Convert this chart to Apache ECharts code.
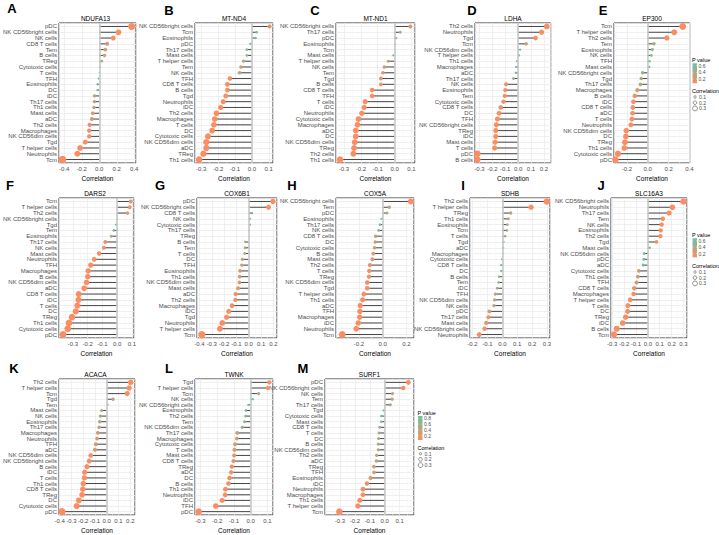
<!DOCTYPE html>
<html><head><meta charset="utf-8">
<script src="https://cdn.jsdelivr.net/npm/echarts@6/dist/echarts.min.js"></script>
<style>html,body{margin:0;padding:0;background:#fff}#c{width:719px;height:535px}</style>
</head><body><div id="c"></div>
<script>
// ---------------- DATA ----------------
const panelTags = ['A','B','C','D','E','F','G','H','I','J','K','L','M'];
const geneNames = ['NDUFA13','MT-ND4','MT-ND1','LDHA','EP300','DARS2','COX6B1','COX5A','SDHB','SLC16A3','ACACA','TWNK','SURF1'];

const catsA = ['pDC','NK CD56bright cells','NK cells','CD8 T cells','Tem','B cells','TReg','Cytotoxic cells','T cells','TFH','Eosinophils','DC','iDC','Th17 cells','Th1 cells','Mast cells','aDC','Th2 cells','Macrophages','NK CD56dim cells','Tgd','T helper cells','Neutrophils','Tcm'];
const corrA = [0.37,0.22,0.16,0.09,0.07,0.06,0.03,0.01,0.003,-0.008,-0.02,-0.02,-0.055,-0.055,-0.06,-0.075,-0.085,-0.11,-0.115,-0.115,-0.16,-0.22,-0.25,-0.42];
const pvalA = [0.0001,0.002,0.03,0.2,0.3,0.35,0.65,0.88,0.98,0.9,0.78,0.78,0.45,0.45,0.42,0.3,0.25,0.12,0.1,0.1,0.02,0.002,0.0005,0.0001];

const catsB = ['NK CD56bright cells','Tcm','Eosinophils','pDC','Th17 cells','Mast cells','T helper cells','Tem','NK cells','TFH','CD8 T cells','B cells','Tgd','Neutrophils','iDC','Th2 cells','Macrophages','T cells','DC','Cytotoxic cells','NK CD56dim cells','aDC','TReg','Th1 cells'];
const corrB = [0.105,0.028,0.022,-0.01,-0.03,-0.03,-0.05,-0.065,-0.073,-0.13,-0.145,-0.145,-0.155,-0.17,-0.185,-0.21,-0.22,-0.225,-0.235,-0.26,-0.27,-0.27,-0.287,-0.313];
const pvalB = [0.15,0.7,0.75,0.88,0.65,0.65,0.45,0.35,0.3,0.07,0.04,0.04,0.03,0.02,0.01,0.005,0.004,0.003,0.002,0.001,0.001,0.001,0.0005,0.0001];

const catsC = ['NK CD56bright cells','Th17 cells','pDC','Eosinophils','Tcm','Mast cells','T helper cells','NK cells','Tem','Tgd','B cells','CD8 T cells','TFH','T cells','iDC','Neutrophils','Cytotoxic cells','Macrophages','aDC','DC','NK CD56dim cells','TReg','Th2 cells','Th1 cells'];
const corrC = [0.093,0.034,0.01,0.004,0.0,-0.008,-0.038,-0.061,-0.069,-0.081,-0.081,-0.133,-0.133,-0.174,-0.18,-0.194,-0.214,-0.22,-0.23,-0.23,-0.236,-0.24,-0.244,-0.323];
const pvalC = [0.2,0.5,0.9,0.96,0.99,0.93,0.4,0.25,0.2,0.15,0.15,0.02,0.02,0.005,0.004,0.003,0.001,0.001,0.001,0.001,0.0008,0.0006,0.0005,0.0001];

const catsD = ['Th2 cells','Neutrophils','Tgd','Tcm','NK CD56dim cells','T helper cells','Th1 cells','Macrophages','aDC','Th17 cells','NK cells','Eosinophils','Tem','Cytotoxic cells','CD8 T cells','DC','TFH','NK CD56bright cells','TReg','iDC','Mast cells','T cells','pDC','B cells'];
const corrD = [0.223,0.182,0.135,0.062,0.016,0.008,-0.01,-0.016,-0.018,-0.036,-0.094,-0.1,-0.104,-0.114,-0.135,-0.148,-0.161,-0.169,-0.174,-0.174,-0.179,-0.182,-0.317,-0.317];
const pvalD = [0.0001,0.0005,0.01,0.35,0.85,0.92,0.9,0.84,0.82,0.6,0.12,0.1,0.1,0.08,0.04,0.03,0.02,0.015,0.012,0.012,0.01,0.01,0.0001,0.0001];

const catsE = ['Tcm','T helper cells','Th2 cells','Tem','Eosinophils','NK cells','TFH','Mast cells','NK CD56bright cells','Tgd','Th17 cells','Macrophages','B cells','iDC','CD8 T cells','aDC','T cells','Neutrophils','NK CD56dim cells','DC','TReg','Th1 cells','Cytotoxic cells','pDC'];
const corrE = [0.336,0.254,0.184,0.06,0.044,0.035,0.019,0.016,-0.05,-0.063,-0.07,-0.1,-0.124,-0.137,-0.143,-0.146,-0.152,-0.162,-0.206,-0.21,-0.219,-0.225,-0.286,-0.311];
const pvalE = [0.07,0.075,0.09,0.42,0.5,0.55,0.64,0.67,0.47,0.38,0.35,0.2,0.15,0.12,0.12,0.11,0.11,0.1,0.08,0.08,0.075,0.075,0.07,0.07];

const catsF = ['Tcm','T helper cells','Th2 cells','NK CD56bright cells','Tgd','Tem','Eosinophils','Th17 cells','NK cells','Mast cells','Neutrophils','TFH','Macrophages','B cells','NK CD56dim cells','aDC','CD8 T cells','iDC','T cells','DC','TReg','Th1 cells','Cytotoxic cells','pDC'];
const corrF = [0.092,0.085,0.07,0.002,-0.009,-0.024,-0.04,-0.081,-0.09,-0.123,-0.156,-0.18,-0.197,-0.2,-0.208,-0.224,-0.261,-0.263,-0.27,-0.281,-0.307,-0.327,-0.336,-0.368];
const pvalF = [0.1,0.12,0.2,0.97,0.88,0.72,0.55,0.15,0.12,0.05,0.02,0.01,0.005,0.005,0.004,0.003,0.001,0.001,0.001,0.0005,0.0003,0.0002,0.0001,0.0001];

const catsG = ['pDC','NK CD56bright cells','CD8 T cells','NK cells','Cytotoxic cells','Th17 cells','TReg','B cells','Tem','T cells','DC','TFH','Eosinophils','Th1 cells','NK CD56dim cells','Mast cells','aDC','Th2 cells','Macrophages','iDC','Tgd','Neutrophils','T helper cells','Tcm'];
const corrG = [0.196,0.16,0.025,0.011,0.011,0.003,0.0,-0.027,-0.03,-0.033,-0.052,-0.057,-0.071,-0.074,-0.076,-0.087,-0.106,-0.109,-0.136,-0.163,-0.18,-0.215,-0.234,-0.381];
const pvalG = [0.0005,0.005,0.65,0.85,0.85,0.95,0.99,0.6,0.55,0.5,0.35,0.3,0.25,0.25,0.24,0.2,0.1,0.1,0.05,0.02,0.01,0.005,0.002,0.0001];

const catsH = ['NK CD56bright cells','Tem','pDC','Eosinophils','Th17 cells','NK cells','CD8 T cells','DC','Cytotoxic cells','B cells','Mast cells','Th2 cells','T cells','TReg','NK CD56dim cells','Tgd','T helper cells','Th1 cells','aDC','TFH','Macrophages','iDC','Neutrophils','Tcm'];
const corrH = [0.237,0.056,0.037,-0.011,-0.023,-0.034,-0.059,-0.062,-0.068,-0.079,-0.087,-0.107,-0.113,-0.115,-0.13,-0.13,-0.158,-0.169,-0.189,-0.192,-0.194,-0.206,-0.223,-0.341];
const pvalH = [0.0001,0.35,0.45,0.88,0.75,0.62,0.35,0.32,0.3,0.22,0.2,0.12,0.1,0.1,0.06,0.06,0.02,0.015,0.008,0.007,0.006,0.004,0.002,0.0001];

const catsI = ['Th2 cells','T helper cells','TReg','Th1 cells','Eosinophils','Tcm','T cells','Tgd','aDC','Macrophages','Cytotoxic cells','CD8 T cells','DC','B cells','Tem','iDC','TFH','NK CD56dim cells','NK cells','pDC','Th17 cells','Mast cells','NK CD56bright cells','Neutrophils'];
const corrI = [0.298,0.193,0.056,0.04,0.034,0.031,0.02,0.009,0.007,0.002,-0.004,-0.009,-0.009,-0.022,-0.025,-0.034,-0.047,-0.052,-0.056,-0.087,-0.094,-0.108,-0.119,-0.155];
const pvalI = [0.0001,0.002,0.38,0.48,0.55,0.56,0.7,0.9,0.92,0.97,0.95,0.9,0.9,0.75,0.7,0.6,0.45,0.4,0.38,0.15,0.12,0.08,0.05,0.01];

const catsJ = ['NK CD56bright cells','Neutrophils','Th17 cells','Tem','NK cells','Eosinophils','Th2 cells','Tgd','Mast cells','NK CD56dim cells','pDC','aDC','Cytotoxic cells','Th1 cells','TFH','CD8 T cells','Macrophages','T helper cells','T cells','DC','TReg','iDC','B cells','Tcm'];
const corrJ = [0.30,0.207,0.179,0.126,0.117,0.109,0.106,0.073,0.017,-0.031,-0.034,-0.039,-0.075,-0.084,-0.095,-0.115,-0.12,-0.148,-0.168,-0.17,-0.187,-0.212,-0.262,-0.285];
const pvalJ = [0.08,0.08,0.08,0.09,0.1,0.1,0.11,0.18,0.6,0.68,0.66,0.62,0.32,0.28,0.25,0.18,0.17,0.12,0.1,0.1,0.09,0.09,0.08,0.08];

const catsK = ['Th2 cells','T helper cells','Tcm','Tgd','Tem','Mast cells','NK cells','Eosinophils','Th17 cells','Macrophages','Neutrophils','TFH','aDC','NK CD56dim cells','NK CD56bright cells','B cells','iDC','T cells','Th1 cells','CD8 T cells','TReg','DC','Cytotoxic cells','pDC'];
const corrK = [0.204,0.19,0.174,0.054,0.008,-0.044,-0.054,-0.06,-0.065,-0.076,-0.082,-0.093,-0.1,-0.136,-0.15,-0.169,-0.188,-0.19,-0.2,-0.204,-0.21,-0.237,-0.256,-0.381];
const pvalK = [0.0005,0.001,0.003,0.4,0.92,0.58,0.5,0.45,0.4,0.33,0.3,0.25,0.2,0.05,0.03,0.01,0.005,0.005,0.003,0.002,0.002,0.001,0.0005,0.0001];

const catsL = ['Tgd','T helper cells','Tcm','NK cells','NK CD56bright cells','Eosinophils','Th2 cells','Tem','NK CD56dim cells','Th17 cells','Macrophages','Cytotoxic cells','T cells','Mast cells','CD8 T cells','TReg','aDC','DC','B cells','Th1 cells','Neutrophils','iDC','TFH','pDC'];
const corrL = [0.112,0.102,0.048,0.014,-0.014,-0.028,-0.03,-0.036,-0.05,-0.08,-0.082,-0.092,-0.096,-0.098,-0.102,-0.112,-0.116,-0.126,-0.132,-0.15,-0.152,-0.17,-0.208,-0.31];
const pvalL = [0.02,0.04,0.42,0.85,0.85,0.72,0.68,0.6,0.5,0.3,0.28,0.22,0.2,0.2,0.18,0.12,0.11,0.08,0.07,0.03,0.03,0.01,0.002,0.0001];

const catsM = ['pDC','NK CD56bright cells','NK cells','Tem','Th17 cells','Tgd','Cytotoxic cells','Mast cells','CD8 T cells','T cells','DC','B cells','NK CD56dim cells','Th2 cells','aDC','TReg','TFH','Eosinophils','iDC','Neutrophils','Macrophages','Th1 cells','T helper cells','Tcm'];
const corrM = [0.158,0.124,0.052,0.05,0.038,-0.009,-0.023,-0.023,-0.034,-0.038,-0.041,-0.043,-0.043,-0.054,-0.056,-0.072,-0.072,-0.095,-0.119,-0.146,-0.146,-0.167,-0.18,-0.304];
const pvalM = [0.05,0.07,0.45,0.46,0.55,0.88,0.75,0.75,0.62,0.57,0.55,0.53,0.53,0.45,0.43,0.3,0.3,0.2,0.12,0.07,0.07,0.06,0.055,0.05];

// x-axis limits and major tick steps of each panel
const xLimits = [[-0.46,0.42],[-0.337,0.125],[-0.347,0.121],[-0.335,0.255],[-0.324,0.406],[-0.395,0.114],[-0.42,0.229],[-0.394,0.265],[-0.217,0.32],[-0.31,0.33],[-0.406,0.24],[-0.332,0.134],[-0.40,0.196]];
const xSteps = [0.2,0.1,0.1,0.1,0.2,0.1,0.1,0.2,0.1,0.1,0.1,0.1,0.1];
const pLegendTicks = {4:[0.2,0.4,0.6], 9:[0.2,0.4,0.6], 12:[0.2,0.4,0.6,0.8]};
const sizeLegendTicks = [0.1,0.2,0.3];

// ---------------- LAYOUT / STYLE ----------------
const gridBoxes = [[55,23,81,140],[195,23,78,140],[336,23,79,140],[475,23,76,140],[614,23,76,140],
  [56,198,78,140],[197,198,80,140],[336,198,78,140],[470,198,80,140],[611,198,76,140],
  [56,379,79,140],[195,379,78,140],[325,379,89,140]];
const tagPos = [[12,8],[169,10],[315,10],[472,10],[603,10],[10,185],[160,185],[292,185],[463,185],[601,185],[14,368],[169,368],[303,368]];
const legendBoxes = {4:{x:692,y:60,barH:20,gap:31}, 9:{x:692,y:235,barH:19,gap:31}, 12:{x:417.5,y:412.7,barH:24,gap:35}};
const ORANGE = '#FC8D62', GREEN = '#66C2A5';
const FONT = '"Liberation Sans", Arial, Helvetica, sans-serif';
const sizeOf = r => 1 + 10 * Math.sqrt(Math.abs(r));

const allCats = [catsA,catsB,catsC,catsD,catsE,catsF,catsG,catsH,catsI,catsJ,catsK,catsL,catsM];
const allCorr = [corrA,corrB,corrC,corrD,corrE,corrF,corrG,corrH,corrI,corrJ,corrK,corrL,corrM];
const allP = [pvalA,pvalB,pvalC,pvalD,pvalE,pvalF,pvalG,pvalH,pvalI,pvalJ,pvalK,pvalL,pvalM];

function fmtX(step){
  return v => {
    const k = v / step;
    if (Math.abs(k - Math.round(k)) > 1e-6) return '';
    let r = Math.round(v * 1000) / 1000; if (Math.abs(r) < 1e-9) r = 0;
    return r.toFixed(1);
  };
}

const option = {animation:false, backgroundColor:'#fff', grid:[], xAxis:[], yAxis:[], series:[], visualMap:[], graphic:[]};
const g = option.graphic;

allCats.forEach((cats, i) => {
  const [l,t,w,h] = gridBoxes[i];
  const corr = allCorr[i], pv = allP[i];
  const pmin = Math.min(...pv), pmax = Math.max(...pv);
  option.grid.push({left:l, top:t, width:w, height:h, show:true, borderColor:'#333', borderWidth:1, backgroundColor:'#fff', containLabel:false});
  option.xAxis.push({type:'value', gridIndex:i, min:xLimits[i][0], max:xLimits[i][1],
    minInterval:xSteps[i], maxInterval:xSteps[i],
    axisLine:{show:false}, axisTick:{show:false},
    splitLine:{show:true, lineStyle:{color:'#EBEBEB', width:0.8}},
    minorTick:{show:false, splitNumber:2},
    minorSplitLine:{show:true, lineStyle:{color:'#F4F4F4', width:0.5}},
    axisLabel:{fontSize:6, color:'#4D4D4D', margin:3, fontFamily:FONT, showMinLabel:false, showMaxLabel:false, formatter:fmtX(xSteps[i])},
    name:'Correlation', nameLocation:'middle', nameGap:12, nameTextStyle:{fontSize:6.5, color:'#000', fontFamily:FONT}});
  option.yAxis.push({type:'value', gridIndex:i, inverse:true, min:-0.6, max:cats.length - 0.4,
    minInterval:1, maxInterval:1,
    axisLine:{show:false}, axisTick:{show:false},
    splitLine:{show:true, lineStyle:{color:'#EBEBEB', width:0.8}},
    axisLabel:{fontSize:6, color:'#4D4D4D', margin:2, fontFamily:FONT, showMinLabel:false, showMaxLabel:false,
      formatter: v => (Number.isInteger(v) && cats[v] !== undefined) ? cats[v] : ''}});
  const segData = corr.map((c,k) => [c, k]);
  const ptData = corr.map((c,k) => [c, k, pv[k]]);
  option.series.push({type:'custom', xAxisIndex:i, yAxisIndex:i, z:2, data:segData, encode:{x:0, y:1},
    renderItem:(params, api) => {
      const s = api.coord([0, api.value(1)]);
      const e = api.coord([api.value(0), api.value(1)]);
      return {type:'line', shape:{x1:s[0], y1:s[1], x2:e[0], y2:e[1]}, style:{stroke:'#333', lineWidth:0.9}};
    },
    markLine:{silent:true, symbol:['none','none'], label:{show:false}, animation:false,
      lineStyle:{color:'#C8C8C8', width:1.6, type:'solid'}, data:[{xAxis:0}]}});
  const sIdx = option.series.length;
  option.series.push({type:'scatter', xAxisIndex:i, yAxisIndex:i, z:3, data:ptData,
    symbol:'circle', symbolSize: v => sizeOf(v[0]), itemStyle:{opacity:1}});
  option.visualMap.push({type:'continuous', show:false, seriesIndex:sIdx, dimension:2, min:pmin, max:pmax,
    inRange:{color:[ORANGE, GREEN]}});
  // panel tag and title
  g.push({type:'text', x:tagPos[i][0], y:tagPos[i][1], style:{text:panelTags[i], font:'bold 13px ' + FONT, fill:'#000', textAlign:'center', textVerticalAlign:'middle'}});
  g.push({type:'text', x:l + w/2, y:t - 5, style:{text:geneNames[i], font:'6.5px ' + FONT, fill:'#000', textAlign:'center', textVerticalAlign:'middle'}});
  // legends that are visible
  if (legendBoxes[i]) {
    const lb = legendBoxes[i];
    const barTop = lb.y + 3.3, barW = 4.5;
    g.push({type:'text', x:lb.x, y:lb.y, style:{text:'P value', font:'5.5px ' + FONT, fill:'#000', textAlign:'left', textVerticalAlign:'middle'}});
    g.push({type:'rect', shape:{x:lb.x + 0.5, y:barTop, width:barW, height:lb.barH},
      style:{fill:{type:'linear', x:0, y:0, x2:0, y2:1, colorStops:[{offset:0, color:GREEN},{offset:1, color:ORANGE}]}}});
    pLegendTicks[i].forEach(v => {
      const yy = barTop + (pmax - v) / (pmax - pmin) * lb.barH;
      g.push({type:'line', shape:{x1:lb.x + 0.5, y1:yy, x2:lb.x + 1.5, y2:yy}, style:{stroke:'#fff', lineWidth:0.5}});
      g.push({type:'line', shape:{x1:lb.x + barW - 0.5, y1:yy, x2:lb.x + barW + 0.5, y2:yy}, style:{stroke:'#fff', lineWidth:0.5}});
      g.push({type:'text', x:lb.x + barW + 2, y:yy, style:{text:v.toFixed(1), font:'5px ' + FONT, fill:'#4D4D4D', textAlign:'left', textVerticalAlign:'middle'}});
    });
    const cy0 = lb.y + lb.gap;
    g.push({type:'text', x:lb.x, y:cy0, style:{text:'Correlation', font:'5.5px ' + FONT, fill:'#000', textAlign:'left', textVerticalAlign:'middle'}});
    sizeLegendTicks.forEach((v, k) => {
      const yy = cy0 + 6 + k * 5.7;
      g.push({type:'circle', shape:{cx:lb.x + 3, cy:yy, r:1.2 + k * 0.6}, style:{fill:'none', stroke:'#444', lineWidth:0.6}});
      g.push({type:'text', x:lb.x + 7, y:yy, style:{text:v.toFixed(1), font:'5px ' + FONT, fill:'#4D4D4D', textAlign:'left', textVerticalAlign:'middle'}});
    });
  }
});

const chart = echarts.init(document.getElementById('c'), null, {renderer:'svg'});
chart.setOption(option);
</script></body></html>
